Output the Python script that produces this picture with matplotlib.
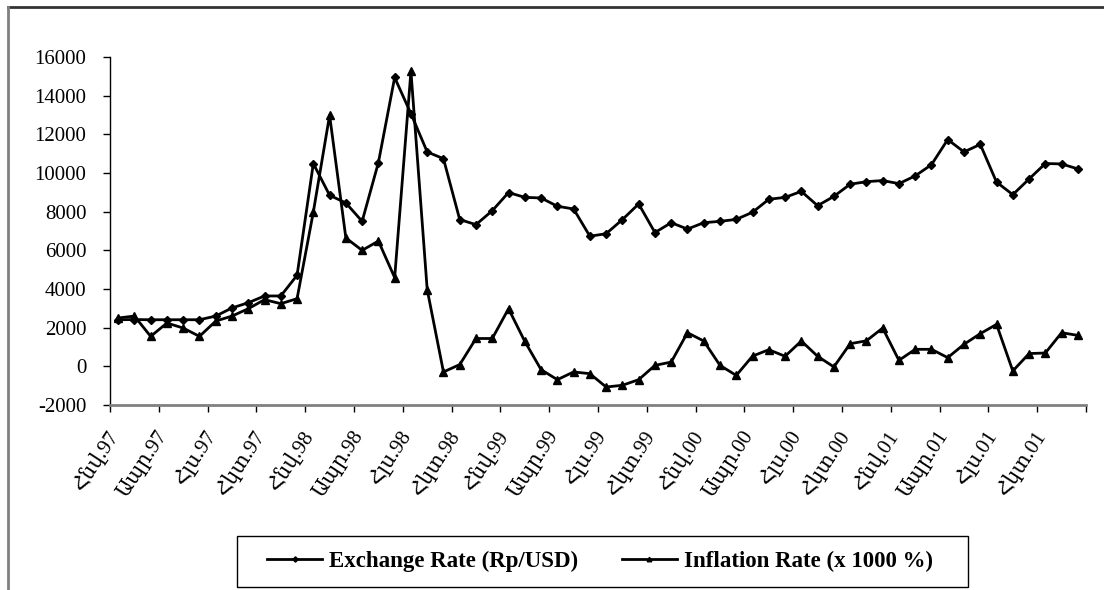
import matplotlib
matplotlib.use("Agg")
import matplotlib.pyplot as plt
from matplotlib.lines import Line2D
from matplotlib.patches import Rectangle

# monthly data, Jan 1997 .. Dec 2001
exchange_rate = [
    2410, 2420, 2410, 2410, 2410, 2410, 2600, 3020, 3290, 3640, 3640, 4710,
    10490, 8850, 8450, 7500, 10540, 14940, 13070, 11090, 10740, 7590, 7330, 8050,
    8990, 8740, 8710, 8280, 8140, 6730, 6860, 7590, 8400, 6920, 7430, 7100,
    7430, 7500, 7600, 7970, 8640, 8740, 9050, 8310, 8790, 9420, 9550, 9610,
    9450, 9850, 10430, 11730, 11090, 11480, 9530, 8880, 9690, 10490, 10470, 10210,
]
inflation_rate = [
    2500, 2600, 1550, 2240, 1980, 1550, 2340, 2600, 2980, 3450, 3240, 3500,
    7980, 12990, 6640, 6000, 6480, 4590, 15260, 3970, -290, 90, 1440, 1440,
    2980, 1290, -170, -690, -290, -380, -1070, -980, -690, 50, 220, 1740,
    1310, 50, -470, 530, 860, 520, 1310, 520, -30, 1170, 1320, 1980,
    310, 880, 880, 450, 1140, 1690, 2170, -240, 660, 690, 1740, 1600,
]
months = ["Հնվ", "Ապր", "Հլս", "Հկտ"]
years = ["97", "98", "99", "00", "01"]
tick_labels = [f"{m}.{y}" for y in years for m in months]

serif = ["Liberation Serif", "DejaVu Serif"]
plt.rcParams["font.family"] = serif
plt.rcParams["axes.unicode_minus"] = False

W, H = 1104, 590
fig = plt.figure(figsize=(W / 100, H / 100), dpi=100)
ax = fig.add_axes([110 / W, 1 - 405 / H, (1086 - 110) / W, (405 - 57) / H])

x = list(range(len(exchange_rate)))
ax.plot(x, exchange_rate, color="black", lw=2.0, marker="D", ms=4.5,
        label="Exchange Rate (Rp/USD)")
ax.plot(x, inflation_rate, color="black", lw=2.0, marker="^", ms=5.5,
        label="Inflation Rate (x 1000 %)")

ax.set_xlim(-0.5, len(x) - 0.5)
ax.set_ylim(-2000, 16000)
ax.set_yticks(range(-2000, 16001, 2000))
ax.tick_params(axis="y", direction="out", length=5, width=1, labelsize=15, pad=12)

# labels at every third month, tick marks at category boundaries
ax.set_xticks([i + 0.3 for i in range(0, len(x), 3)])
ax.set_xticklabels(tick_labels, rotation=57, ha="right", va="top", fontsize=15)
ax.tick_params(axis="x", which="major", length=0, pad=16)
ax.set_xticks([i - 0.5 for i in range(0, len(x) + 1, 3)], minor=True)
ax.tick_params(axis="x", which="minor", direction="out", length=5, width=1)

for s in ["top", "right"]:
    ax.spines[s].set_visible(False)
ax.spines["left"].set_color("black")
ax.spines["left"].set_linewidth(1)
ax.spines["bottom"].set_color("#808080")
ax.spines["bottom"].set_linewidth(2)

# chart area border (top and left)
fig.add_artist(Line2D([8 / W, 1], [1 - 7 / H, 1 - 7 / H], color="#333333", lw=2))
fig.add_artist(Line2D([8 / W, 8 / W], [0, 1 - 7 / H], color="#808080", lw=2))

# legend box
fig.add_artist(Rectangle((237 / W, 1 - 587 / H), (968 - 237) / W, 51 / H,
                         fill=False, edgecolor="black", lw=1))
leg = fig.legend(loc="center", bbox_to_anchor=(600 / W, 1 - 561 / H), ncol=2,
                 frameon=False, handlelength=2.4, handletextpad=0.3,
                 columnspacing=1.9, markerscale=0.6,
                 prop={"family": serif, "weight": "bold", "size": 16.5})

fig.savefig("out.png", dpi=100)
